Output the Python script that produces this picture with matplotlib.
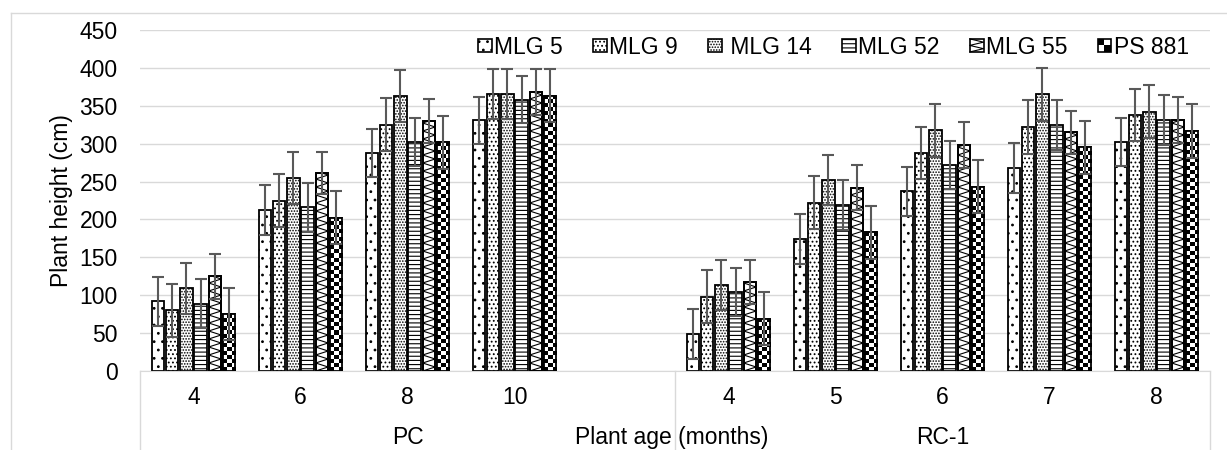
import matplotlib
matplotlib.use("Agg")
import matplotlib.pyplot as plt
import numpy as np
from matplotlib.legend_handler import HandlerBase
from matplotlib.lines import Line2D
from matplotlib.patches import Patch, Rectangle

plt.rcParams["font.family"] = ["Liberation Sans", "DejaVu Sans"]
plt.rcParams["hatch.linewidth"] = 0.8

ages_pc = ["4", "6", "8", "10"]
ages_rc = ["4", "5", "6", "7", "8"]
groups = ["PC", "RC-1"]
varieties = ["MLG 5", "MLG 9", " MLG 14", "MLG 52", "MLG 55", "PS 881"]

# plant height (cm), PC ages then RC-1 ages
height_mlg5 = [92, 213, 288, 331, 49, 174, 237, 268, 302]
height_mlg9 = [80, 225, 325, 366, 98, 222, 288, 322, 338]
height_mlg14 = [109, 255, 363, 366, 114, 252, 318, 365, 342]
height_mlg52 = [89, 216, 302, 358, 104, 219, 272, 324, 331]
height_mlg55 = [125, 261, 330, 368, 117, 242, 298, 315, 331]
height_ps881 = [75, 202, 302, 363, 69, 183, 243, 295, 317]

err_mlg5 = [32, 33, 32, 31, 33, 33, 32, 33, 32]
err_mlg9 = [35, 35, 35, 33, 35, 35, 34, 35, 34]
err_mlg14 = [34, 34, 34, 33, 33, 33, 35, 35, 35]
err_mlg52 = [32, 32, 32, 31, 32, 33, 32, 33, 33]
err_mlg55 = [30, 28, 29, 30, 29, 30, 30, 28, 30]
err_ps881 = [34, 35, 35, 35, 35, 35, 35, 35, 36]

heights = [height_mlg5, height_mlg9, height_mlg14, height_mlg52, height_mlg55, height_ps881]
errors = [err_mlg5, err_mlg9, err_mlg14, err_mlg52, err_mlg55, err_ps881]
fills = ["..", "....", "......", "----", "zigzag", "checker"]

GRID = "#d9d9d9"
FS = 16.5

fig = plt.figure(figsize=(12.27, 4.5), dpi=100)
ax = fig.add_axes([140 / 1227, 79 / 450, 1070 / 1227, 341 / 450])

n_slots = len(ages_pc) + 1 + len(ages_rc)
slots = np.r_[0:len(ages_pc), len(ages_pc) + 1:n_slots]
tick_labels = ages_pc + [""] + ages_rc
pitch = 1 / 7.5
bar_width = 0.117
ymax = 450
px_y = 341 / ymax  # pixels per cm
px_x = 1070 / n_slots  # pixels per slot


def add_checker(ax, bars, cell=4):
    for bar in bars:
        x, w, h = bar.get_x(), bar.get_width(), bar.get_height()
        ncol = max(1, round(w * px_x / cell))
        nrow = max(1, round(h * px_y / cell))
        board = np.indices((nrow, ncol)).sum(axis=0) % 2
        im = ax.imshow(board, cmap="gray", vmin=0, vmax=1, extent=(x, x + w, 0, h),
                       origin="lower", interpolation="nearest", aspect="auto", zorder=2.5)
        im.set_clip_path(bar)


def add_zigzag(ax, bars, period=8):
    half = period / 2 / px_y
    for bar in bars:
        x, w, h = bar.get_x(), bar.get_width(), bar.get_height()
        ys = np.arange(0, h + half, half)
        xs = np.where(np.arange(len(ys)) % 2 == 0, x, x + w)
        line, = ax.plot(xs, ys, color="black", lw=0.8, zorder=2.5)
        line.set_clip_path(bar)


class TextureHandler(HandlerBase):
    def __init__(self, kind):
        super().__init__()
        self.kind = kind

    def create_artists(self, legend, orig_handle, xdescent, ydescent, width, height, fontsize, trans):
        x0, y0 = -xdescent, -ydescent
        artists = [Rectangle((x0, y0), width, height, facecolor="white", edgecolor="none", transform=trans)]
        if self.kind == "checker":
            for i in range(2):
                for j in range(2):
                    if (i + j) % 2 == 1:
                        artists.append(Rectangle((x0 + j * width / 2, y0 + i * height / 2), width / 2, height / 2,
                                                 facecolor="black", edgecolor="none", transform=trans))
        else:
            artists.append(Line2D([x0, x0 + width, x0, x0 + width, x0],
                                  [y0, y0 + height / 4, y0 + height / 2, y0 + 3 * height / 4, y0 + height],
                                  color="black", lw=0.8, transform=trans))
        artists.append(Rectangle((x0, y0), width, height, facecolor="none", edgecolor="black", lw=1.2, transform=trans))
        return artists


handles = []
handler_map = {}
for i, (name, h, e, fill) in enumerate(zip(varieties, heights, errors, fills)):
    pos = slots + (i - 2.5) * pitch
    textured = fill in ("zigzag", "checker")
    bars = ax.bar(pos, h, bar_width, color="white", edgecolor="black", linewidth=1.3,
                  hatch=None if textured else fill, zorder=2)
    if fill == "checker":
        add_checker(ax, bars)
    elif fill == "zigzag":
        add_zigzag(ax, bars)
    if textured:
        ax.bar(pos, h, bar_width, fill=False, edgecolor="black", linewidth=1.3, zorder=2.6)
        proxy = Patch(facecolor="white", edgecolor="black")
        handler_map[proxy] = TextureHandler(fill)
    else:
        proxy = Patch(facecolor="white", edgecolor="black", hatch=fill, linewidth=1.2)
    handles.append(proxy)
    ax.errorbar(pos, h, yerr=e, fmt="none", ecolor="#595959", elinewidth=1.5,
                capsize=4.3, capthick=1.5, zorder=3)

ax.set_xlim(-0.5, n_slots - 0.5)
ax.set_ylim(0, ymax)
ax.set_yticks(np.arange(0, ymax + 1, 50))
ax.set_xticks(np.arange(n_slots), tick_labels)
ax.tick_params(axis="x", length=0, pad=11, labelsize=FS)
ax.tick_params(axis="y", length=0, pad=16, labelsize=FS)
ax.yaxis.grid(True, color=GRID, lw=1)
ax.set_axisbelow(True)
for side in ["left", "right", "top"]:
    ax.spines[side].set_visible(False)
ax.spines["bottom"].set_color(GRID)

ax.set_ylabel("Plant height (cm)", fontsize=FS)
ax.yaxis.set_label_coords((73 - 140) / 1070, 0.5)
ax.set_xlabel("Plant age (months)", fontsize=FS, va="center")
ax.xaxis.set_label_coords((672 - 140) / 1070, -0.196)

# category boxes below the axis
xtrans = ax.get_xaxis_transform()
for xb in [-0.5, len(ages_pc) + 0.5, n_slots - 0.5]:
    ax.plot([xb, xb], [0, -0.24], transform=xtrans, clip_on=False, color=GRID, lw=1)
ax.text(len(ages_pc) / 2, -0.196, groups[0], transform=xtrans, ha="center", va="center", fontsize=FS)
ax.text(len(ages_pc) + 1 + (len(ages_rc) - 1) / 2, -0.196, groups[1], transform=xtrans,
        ha="center", va="center", fontsize=FS)

leg = ax.legend(handles, varieties, handler_map=handler_map, ncol=6, loc="center",
                bbox_to_anchor=(0.648, 0.950), frameon=False, fontsize=FS,
                handlelength=0.6, handleheight=0.5, handletextpad=0.1,
                columnspacing=1.32, borderpad=0, borderaxespad=0)
leg.set_zorder(5)

# chart-area border (cropped on the right and bottom)
bx, by = 11 / 1227, 1 - 13 / 450
fig.add_artist(Line2D([bx, 1], [by, by], color=GRID, lw=1, transform=fig.transFigure))
fig.add_artist(Line2D([bx, bx], [0, by], color=GRID, lw=1, transform=fig.transFigure))

fig.savefig("out.png", dpi=100)
